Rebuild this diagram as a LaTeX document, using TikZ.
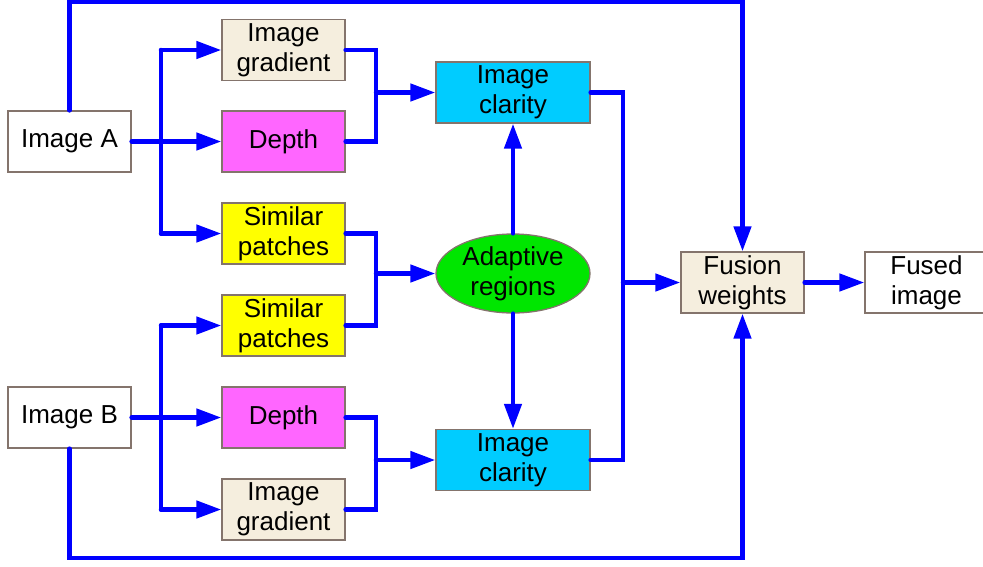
\documentclass[tikz,border=0pt]{standalone}
\usepackage{fontspec}
\setmainfont{Liberation Sans}
\usetikzlibrary{arrows.meta,shapes.geometric}

\definecolor{edge}{RGB}{132,116,108}
\definecolor{flowblue}{RGB}{0,0,255}
\definecolor{beige}{RGB}{245,238,222}
\definecolor{pink}{RGB}{255,102,255}
\definecolor{sun}{RGB}{255,255,0}
\definecolor{sky}{RGB}{0,204,255}
\definecolor{leaf}{RGB}{0,230,0}

\tikzset{
  box/.style={draw=edge, line width=1.3pt, minimum width=123pt, minimum height=61pt,
    inner sep=0pt, align=center, font=\fontsize{26}{30}\selectfont},
  widebox/.style={box, minimum width=154pt},
  oval/.style={ellipse, draw=edge, line width=1.3pt, fill=leaf, minimum width=154pt,
    minimum height=79pt, inner sep=0pt, align=center, font=\fontsize{26}{30}\selectfont},
  wire/.style={draw=flowblue, line width=4.5pt, line cap=round},
  flow/.style={wire, -{Triangle[length=25pt,width=17pt]}},
}

\begin{document}
\begin{tikzpicture}[x=1pt,y=-1pt]
\useasboundingbox (0,0) rectangle (983,566);

% inputs
\node[box, fill=white] (imgA) at (69.5,141.5) {Image A};
\node[box, fill=white] (imgB) at (69.5,417.5) {Image B};

% features of image A
\node[box, fill=beige] (gradA)  at (283.5,50)    {Image\\gradient};
\node[box, fill=pink]  (depthA) at (283.5,141.5) {Depth};
\node[box, fill=sun]   (simA)   at (283.5,233.5) {Similar\\patches};

% features of image B
\node[box, fill=sun]   (simB)   at (283.5,325.5) {Similar\\patches};
\node[box, fill=pink]  (depthB) at (283.5,417.5) {Depth};
\node[box, fill=beige] (gradB)  at (283.5,509.5) {Image\\gradient};

% clarity and regions
\node[widebox, fill=sky] (clarA) at (513,92.5)  {Image\\clarity};
\node[oval] (adapt) at (513,273.5) {Adaptive\\regions};
\node[widebox, fill=sky] (clarB) at (513,460)   {Image\\clarity};

% fusion
\node[box, fill=beige] (fusion) at (742.5,282.5) {Fusion\\weights};
\node[box, fill=white] (fused)  at (926.5,282.5) {Fused\\image};

% junction points
\coordinate (splitA) at (161,141.5);
\coordinate (splitB) at (161,417.5);
\coordinate (mergeA) at (376,92.5);
\coordinate (mergeP) at (376,273.5);
\coordinate (mergeB) at (376,460);
\coordinate (mergeC) at (623,282.5);
\coordinate (top)    at (0,1.5);
\coordinate (bottom) at (0,558);

% image A branches
\draw[flow] (imgA.east) -- (depthA.west);
\draw[wire] (gradA.west -| splitA) -- (simA.west -| splitA);
\draw[flow] (gradA.west -| splitA) -- (gradA.west);
\draw[flow] (simA.west -| splitA) -- (simA.west);

% image B branches
\draw[flow] (imgB.east) -- (depthB.west);
\draw[wire] (simB.west -| splitB) -- (gradB.west -| splitB);
\draw[flow] (simB.west -| splitB) -- (simB.west);
\draw[flow] (gradB.west -| splitB) -- (gradB.west);

% merges into clarity and regions
\draw[wire] (gradA.east) -| (mergeA) |- (depthA.east);
\draw[flow] (mergeA) -- (clarA.west);
\draw[wire] (simA.east) -| (mergeP) |- (simB.east);
\draw[flow] (mergeP) -- (adapt.west);
\draw[wire] (depthB.east) -| (mergeB) |- (gradB.east);
\draw[flow] (mergeB) -- (clarB.west);

% regions guide clarity
\draw[flow] (adapt.north) -- (clarA.south);
\draw[flow] (adapt.south) -- (clarB.north);

% clarity into fusion weights
\draw[wire] (clarA.east) -| (mergeC) |- (clarB.east);
\draw[flow] (mergeC) -- (fusion.west);

% direct paths of the source images
\draw[flow] (imgA.north) -- (imgA.north |- top) -- (fusion.north |- top) -- (fusion.north);
\draw[flow] (imgB.south) -- (imgB.south |- bottom) -- (fusion.south |- bottom) -- (fusion.south);

% output
\draw[flow] (fusion.east) -- (fused.west);
\end{tikzpicture}
\end{document}
